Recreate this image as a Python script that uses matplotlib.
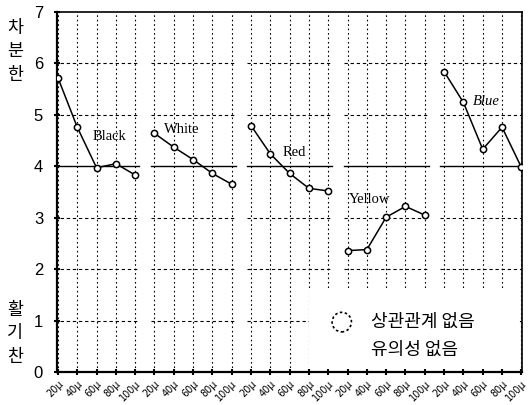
import matplotlib.pyplot as plt
from matplotlib.patches import Rectangle, Ellipse

plt.rcParams['font.family'] = ['Noto Sans CJK KR', 'DejaVu Sans']

# data
colors = ['Black', 'White', 'Red', 'Yellow', 'Blue']
sizes = ['20μ', '40μ', '60μ', '80μ', '100μ']
black = [5.72, 4.76, 3.97, 4.05, 3.83]
white = [4.64, 4.37, 4.13, 3.86, 3.65]
red = [4.79, 4.24, 3.86, 3.57, 3.52]
yellow = [2.36, 2.38, 3.01, 3.22, 3.05]
blue = [5.84, 5.24, 4.33, 4.76, 3.98]
series = [black, white, red, yellow, blue]
label_pos = [(1.8, 4.57), (5.5, 4.71), (11.65, 4.26), (15.05, 3.35), (21.5, 5.25)]

fig = plt.figure(figsize=(5.3, 4.05), dpi=100)
ax = fig.add_axes([0.1075, 0.0815, 0.878, 0.889])

n = len(sizes)
xt = list(range(n * len(colors)))
ax.set_xlim(-0.05, len(xt) - 1 + 0.05)
ax.set_ylim(0, 7)

# grid: dotted verticals, dashed horizontals per group, solid line at 4
for x in xt:
    ax.plot([x, x], [0, 7], color='black', lw=0.8, ls=(0, (1.5, 2.5)), zorder=1)
for g in range(len(colors)):
    x0, x1 = g * n - 0.2, g * n + n - 1 + 0.2
    for yv in [1, 2, 3, 5, 6]:
        ax.plot([x0, x1], [yv, yv], color='black', lw=0.8, ls=(0, (3, 2.5)), zorder=1)
    ax.plot([x0, x1], [4, 4], color='black', lw=1.0, zorder=1)

# white box for the note
ax.add_patch(Rectangle((13.0, 0.05), 10.9, 1.58, facecolor='white', edgecolor='none', zorder=2))

for g, vals in enumerate(series):
    xs = [g * n + i for i in range(n)]
    ax.plot(xs, vals, color='black', lw=1.1, marker='o', ms=4.5, mfc='white', mec='black', mew=1.1, zorder=4)
    ax.text(label_pos[g][0], label_pos[g][1], colors[g], family='Liberation Serif', va='center',
            fontsize=10.5, style='italic' if colors[g] == 'Blue' else 'normal', zorder=5)

ax.add_patch(Ellipse((14.7, 0.97), 1.0, 0.38, facecolor='none', edgecolor='black', lw=1.2, ls=(0, (1.5, 1.5)), zorder=3))
ax.text(16.2, 0.97, '상관관계 없음', fontsize=13, va='center', zorder=3)
ax.text(16.2, 0.43, '유의성 없음', fontsize=13, va='center', zorder=3)

ax.set_xticks(xt)
ax.set_xticklabels(sizes * len(colors), rotation=45, fontsize=7, family='DejaVu Sans',
                   ha='right', va='top', rotation_mode='anchor')
ax.set_yticks(range(8))
ax.set_yticklabels([str(v) for v in range(8)], fontsize=12, family='Liberation Sans')
ax.tick_params(axis='both', direction='inout', length=4, width=1.5, pad=3)
ax.tick_params(axis='x', pad=3)
ax.tick_params(axis='y', pad=8)
for s in ax.spines.values():
    s.set_linewidth(1.2)
ax.spines['left'].set_linewidth(1.6)
ax.spines['bottom'].set_linewidth(1.6)

for i, ch in enumerate('차분한'):
    fig.text(0.028, 0.931 - i * 0.058, ch, fontsize=12.5, ha='center', va='center')
for i, ch in enumerate('활기찬'):
    fig.text(0.028, 0.235 - i * 0.058, ch, fontsize=12.5, ha='center', va='center')

fig.savefig('out.png', dpi=100)
